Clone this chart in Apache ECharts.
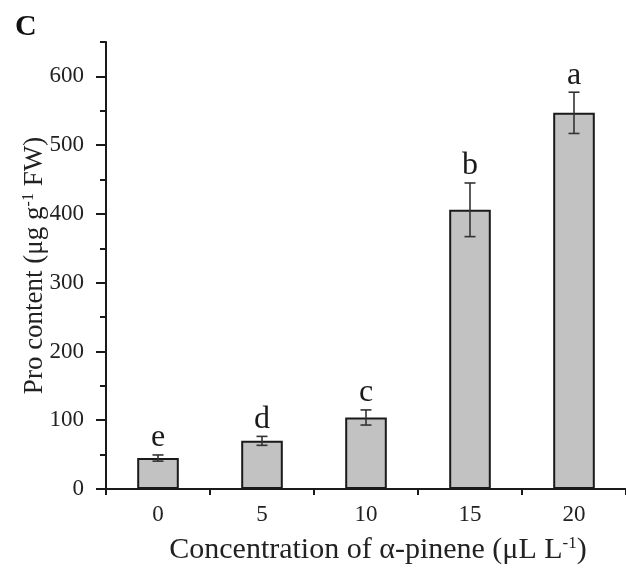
<!DOCTYPE html>
<html>
<head>
<meta charset="utf-8">
<title>Pro content vs α-pinene concentration</title>
<script src="https://cdn.jsdelivr.net/npm/echarts@6/dist/echarts.min.js"></script>
<style>
  html, body { margin: 0; padding: 0; background: #ffffff; }
  #chart { width: 626px; height: 575px; }
</style>
</head>
<body>
<div id="chart"></div>
<script>
// α-pinene concentrations (μL L-1)
const concentrations = ['0', '5', '10', '15', '20'];
// Mean proline content (μg g-1 FW)
const proContent = [45, 70, 104, 406, 547];
// Standard deviation of each mean
const proSD = [4.5, 6.5, 11, 39, 30];
// Significance groups
const groupLetters = ['e', 'd', 'c', 'b', 'a'];
// Y axis ticks
const majorTicks = [0, 100, 200, 300, 400, 500, 600];
const minorTicks = [0, 50, 100, 150, 200, 250, 300, 350, 400, 450, 500, 550, 600, 650];

const serif = '"Liberation Serif", "Times New Roman", serif';
const ink = '#1a1a1a';

const chart = echarts.init(document.getElementById('chart'), null, { renderer: 'canvas' });

const errorData = concentrations.map((c, i) => [i, proContent[i], proSD[i], groupLetters[i]]);

chart.setOption({
  animation: false,
  backgroundColor: '#ffffff',
  title: {
    text: 'C',
    left: 10,
    top: 7,
    textStyle: { fontFamily: serif, fontWeight: 'bold', fontSize: 30, color: '#111' }
  },
  grid: { left: 106, right: 0, top: 42, bottom: 86, containLabel: false },
  xAxis: {
    type: 'category',
    data: concentrations,
    boundaryGap: true,
    axisLine: { show: true, lineStyle: { color: ink, width: 2 } },
    axisTick: { show: true, alignWithLabel: false, length: 6, lineStyle: { color: ink, width: 2 } },
    axisLabel: { fontFamily: serif, fontSize: 23, color: '#222', margin: 14 },
    splitLine: { show: false },
    name: '{t|Concentration of α-pinene (μL L}{s|-1}{t|)}',
    nameLocation: 'middle',
    nameGap: 46,
    nameMoveOverlap: false,
    nameTextStyle: {
      padding: [0, 0, 0, 24],
      rich: {
        t: { fontFamily: serif, fontSize: 30, color: '#222' },
        s: { fontFamily: serif, fontSize: 17, color: '#222', verticalAlign: 'top', padding: [0, 0, 12, 0] }
      }
    }
  },
  yAxis: [
    {
      type: 'value',
      position: 'left',
      min: 0,
      max: 650,
      interval: 50,
      axisLine: { show: true, lineStyle: { color: ink, width: 2 } },
      axisTick: { show: true, length: 10, customValues: majorTicks, lineStyle: { color: ink, width: 2 } },
      axisLabel: { customValues: majorTicks, fontFamily: serif, fontSize: 23, color: '#222', margin: 22 },
      splitLine: { show: false },
      name: '{t|Pro content (μg g}{s|-1}{t| FW)}',
      nameLocation: 'middle',
      nameRotate: 90,
      nameGap: 57,
      nameMoveOverlap: false,
      nameTextStyle: {
        rich: {
          t: { fontFamily: serif, fontSize: 27, color: '#222' },
          s: { fontFamily: serif, fontSize: 16, color: '#222', verticalAlign: 'top', padding: [0, 0, 12, 0] }
        }
      }
    },
    {
      type: 'value',
      position: 'left',
      min: 0,
      max: 650,
      interval: 50,
      axisLine: { show: false },
      axisTick: { show: true, length: 6, customValues: minorTicks, lineStyle: { color: ink, width: 2 } },
      axisLabel: { show: false },
      splitLine: { show: false }
    }
  ],
  series: [
    {
      type: 'bar',
      data: proContent,
      barWidth: '40%',
      itemStyle: { color: '#c2c2c2', borderColor: ink, borderWidth: 2 }
    },
    {
      type: 'custom',
      data: errorData,
      z: 5,
      renderItem: function (params, api) {
        const idx = api.value(0);
        const mean = api.value(1);
        const sd = api.value(2);
        const hi = api.coord([idx, mean + sd]);
        const lo = api.coord([idx, mean - sd]);
        const capHalf = 5.5;
        const lineStyle = { stroke: '#333', lineWidth: 1.6 };
        return {
          type: 'group',
          children: [
            { type: 'line', shape: { x1: hi[0], y1: hi[1], x2: lo[0], y2: lo[1] }, style: lineStyle },
            { type: 'line', shape: { x1: hi[0] - capHalf, y1: hi[1], x2: hi[0] + capHalf, y2: hi[1] }, style: lineStyle },
            { type: 'line', shape: { x1: lo[0] - capHalf, y1: lo[1], x2: lo[0] + capHalf, y2: lo[1] }, style: lineStyle },
            {
              type: 'text',
              x: hi[0],
              y: hi[1] - 1,
              style: {
                text: groupLetters[params.dataIndex],
                fontFamily: serif,
                fontSize: 32,
                fill: '#1a1a1a',
                align: 'center',
                verticalAlign: 'bottom'
              }
            }
          ]
        };
      }
    }
  ]
});
</script>
</body>
</html>
